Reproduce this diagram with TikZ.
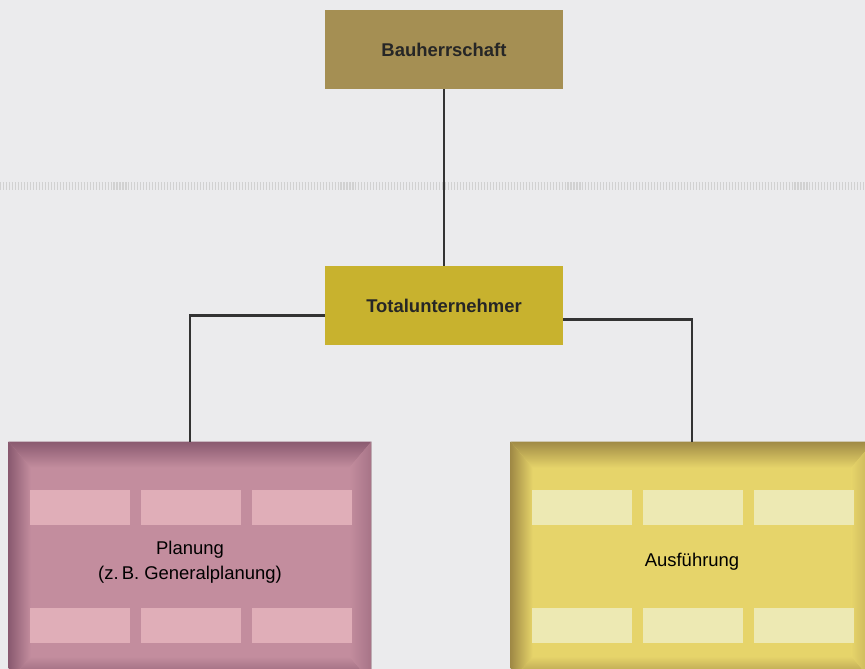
\documentclass[tikz,border=0pt]{standalone}
\usepackage{fontspec}
\setmainfont{Liberation Sans}
\usetikzlibrary{calc}

\definecolor{bgcol}{HTML}{EBEBED}
\definecolor{bauherr}{HTML}{A58F53}
\definecolor{total}{HTML}{C8B22E}
\definecolor{planfill}{HTML}{C38D9E}
\definecolor{plandark}{HTML}{8A5A70}
\definecolor{plansmall}{HTML}{E0AEB8}
\definecolor{ausffill}{HTML}{E6D46A}
\definecolor{ausfdark}{HTML}{A08A45}
\definecolor{ausfsmall}{HTML}{EDE9B3}
\definecolor{linecol}{HTML}{333333}

\tikzset{
  topbox/.style={rectangle, minimum width=4.76cm, minimum height=1.58cm, inner sep=0pt,
    font=\fontsize{10.5}{14}\selectfont\bfseries, text=black!85},
  bigbox/.style={rectangle, minimum width=7.24cm, minimum height=4.8cm, inner sep=0pt,
    align=center, font=\fontsize{10.5}{14}\selectfont, text=black},
  conn/.style={draw=linecol, line width=1.2pt},
  sepline/.style={draw=black!18, line width=4.5pt, dash pattern=on 0.6pt off 1.1pt}
}

% bevelled edges of a big box: node, dark colour, fill colour
\newcommand{\bevel}[3]{%
  \shade[top color=#2, bottom color=#3] (#1.north west) -- (#1.north east)
    -- ($(#1.north east)+(-22,26)$) -- ($(#1.north west)+(22,26)$) -- cycle;
  \shade[bottom color=#2, top color=#3] (#1.south west) -- (#1.south east)
    -- ($(#1.south east)+(-22,-26)$) -- ($(#1.south west)+(22,-26)$) -- cycle;
  \shade[left color=#2, right color=#3] (#1.north west) -- ($(#1.north west)+(22,26)$)
    -- ($(#1.south west)+(22,-26)$) -- (#1.south west) -- cycle;
  \shade[right color=#2!50!#3, left color=#3] (#1.north east) -- ($(#1.north east)+(-22,26)$)
    -- ($(#1.south east)+(-22,-26)$) -- (#1.south east) -- cycle;
}

\begin{document}
\begin{tikzpicture}[x=0.02cm, y=-0.02cm]
    % Background
    \fill[bgcol] (0,0) rectangle (865,669);
    \useasboundingbox (0,0) rectangle (865,669);
    \clip (0,0) rectangle (865,669);

    % Separator
    \draw[sepline] (0,186) -- (865,186);

    % Upper boxes
    \node[topbox, fill=bauherr] (bh) at (444,49.5) {Bauherrschaft};
    \node[topbox, fill=total] (tu) at (444,305.5) {Totalunternehmer};

    % Lower boxes
    \node[bigbox, fill=planfill, draw=black!20, line width=0.4pt] (plan) at (190,562) {};
    \node[bigbox, fill=ausffill, draw=black!20, line width=0.4pt] (ausf) at (692,562) {};
    \bevel{plan}{plandark}{planfill}
    \bevel{ausf}{ausfdark}{ausffill}

    % Small fields
    \foreach \dx in {-110,1,112} {
        \foreach \yy in {507.5,625.5} {
            \fill[plansmall] ($(plan.center |- 0,\yy)+(\dx,0)+(-50,-17.5)$) rectangle ++(100,35);
            \fill[ausfsmall] ($(ausf.center |- 0,\yy)+(\dx,0)+(-50,-17.5)$) rectangle ++(100,35);
        }
    }

    % Labels
    \node[bigbox] (plantext) at (plan.center) {Planung\\(z.\,B. Generalplanung)};
    \node[bigbox] (ausftext) at (ausf.center) {Ausführung};

    % Connectors
    \draw[conn] (bh) -- (tu);
    \draw[conn] ($(tu.west)+(0,10)$) -| (plan.north);
    \draw[conn] ($(tu.east)+(0,14)$) -| (ausf.north);

\end{tikzpicture}
\end{document}
